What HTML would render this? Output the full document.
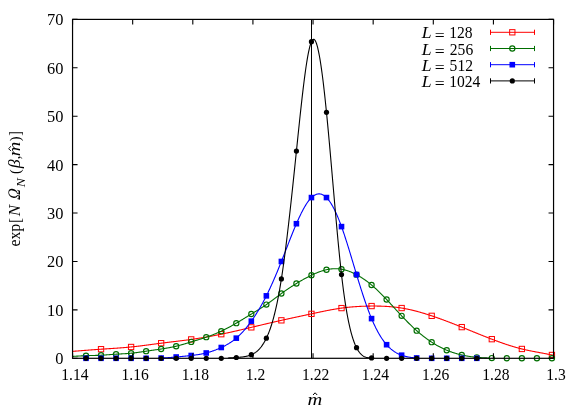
<!DOCTYPE html>
<html><head><meta charset="utf-8"><title>plot</title>
<style>html,body{margin:0;padding:0;background:#fff}svg{display:block;will-change:transform}</style></head>
<body>
<svg width="581" height="407" viewBox="0 0 581 407">
<rect x="0" y="0" width="581" height="407" fill="#fff"/>
<path d="M311.5,19.4 V358.3" stroke="#000" stroke-width="1.0" fill="none"/>
<path d="M72.55,351.38 L73.05,351.34 L73.55,351.30 L74.05,351.26 L74.55,351.21 L75.05,351.17 L75.55,351.13 L76.05,351.09 L76.55,351.05 L77.05,351.01 L77.55,350.97 L78.05,350.93 L78.55,350.89 L79.05,350.85 L79.55,350.81 L80.05,350.77 L80.55,350.73 L81.05,350.69 L81.55,350.65 L82.05,350.61 L82.55,350.57 L83.05,350.53 L83.55,350.49 L84.05,350.45 L84.55,350.42 L85.05,350.38 L85.55,350.34 L86.05,350.30 L86.55,350.26 L87.05,350.22 L87.55,350.18 L88.05,350.14 L88.55,350.10 L89.05,350.07 L89.55,350.03 L90.05,349.99 L90.55,349.95 L91.05,349.91 L91.55,349.88 L92.05,349.84 L92.55,349.80 L93.05,349.76 L93.55,349.73 L94.05,349.69 L94.55,349.65 L95.05,349.62 L95.55,349.58 L96.05,349.55 L96.55,349.51 L97.05,349.47 L97.55,349.44 L98.05,349.40 L98.55,349.37 L99.05,349.33 L99.55,349.30 L100.05,349.26 L100.55,349.23 L101.05,349.20 L101.55,349.16 L102.05,349.13 L102.55,349.10 L103.05,349.06 L103.55,349.03 L104.05,349.00 L104.55,348.96 L105.05,348.93 L105.55,348.90 L106.05,348.87 L106.55,348.83 L107.05,348.80 L107.55,348.77 L108.05,348.74 L108.55,348.71 L109.05,348.67 L109.55,348.64 L110.05,348.61 L110.55,348.58 L111.05,348.54 L111.55,348.51 L112.05,348.48 L112.55,348.45 L113.05,348.41 L113.55,348.38 L114.05,348.35 L114.55,348.31 L115.05,348.28 L115.55,348.24 L116.05,348.21 L116.55,348.18 L117.05,348.14 L117.55,348.11 L118.05,348.07 L118.55,348.03 L119.05,348.00 L119.55,347.96 L120.05,347.92 L120.55,347.89 L121.05,347.85 L121.55,347.81 L122.05,347.77 L122.55,347.73 L123.05,347.69 L123.55,347.65 L124.05,347.61 L124.55,347.57 L125.05,347.53 L125.55,347.49 L126.05,347.44 L126.55,347.40 L127.05,347.35 L127.55,347.31 L128.05,347.26 L128.55,347.22 L129.05,347.17 L129.55,347.12 L130.05,347.07 L130.55,347.03 L131.05,346.98 L131.55,346.92 L132.05,346.87 L132.55,346.82 L133.05,346.77 L133.55,346.71 L134.05,346.66 L134.55,346.60 L135.05,346.55 L135.55,346.49 L136.05,346.44 L136.55,346.38 L137.05,346.32 L137.55,346.26 L138.05,346.20 L138.55,346.14 L139.05,346.08 L139.55,346.02 L140.05,345.96 L140.55,345.90 L141.05,345.84 L141.55,345.77 L142.05,345.71 L142.55,345.65 L143.05,345.58 L143.55,345.52 L144.05,345.45 L144.55,345.39 L145.05,345.32 L145.55,345.26 L146.05,345.19 L146.55,345.13 L147.05,345.06 L147.55,345.00 L148.05,344.93 L148.55,344.86 L149.05,344.80 L149.55,344.73 L150.05,344.66 L150.55,344.60 L151.05,344.53 L151.55,344.46 L152.05,344.40 L152.55,344.33 L153.05,344.26 L153.55,344.19 L154.05,344.13 L154.55,344.06 L155.05,343.99 L155.55,343.93 L156.05,343.86 L156.55,343.79 L157.05,343.73 L157.55,343.66 L158.05,343.60 L158.55,343.53 L159.05,343.47 L159.55,343.40 L160.05,343.34 L160.55,343.27 L161.05,343.21 L161.55,343.14 L162.05,343.08 L162.55,343.02 L163.05,342.95 L163.55,342.89 L164.05,342.83 L164.55,342.77 L165.05,342.70 L165.55,342.64 L166.05,342.58 L166.55,342.52 L167.05,342.46 L167.55,342.40 L168.05,342.34 L168.55,342.28 L169.05,342.22 L169.55,342.16 L170.05,342.10 L170.55,342.04 L171.05,341.97 L171.55,341.91 L172.05,341.85 L172.55,341.79 L173.05,341.73 L173.55,341.67 L174.05,341.61 L174.55,341.55 L175.05,341.49 L175.55,341.43 L176.05,341.37 L176.55,341.31 L177.05,341.25 L177.55,341.19 L178.05,341.13 L178.55,341.07 L179.05,341.01 L179.55,340.94 L180.05,340.88 L180.55,340.82 L181.05,340.76 L181.55,340.70 L182.05,340.63 L182.55,340.57 L183.05,340.51 L183.55,340.44 L184.05,340.38 L184.55,340.32 L185.05,340.25 L185.55,340.19 L186.05,340.12 L186.55,340.05 L187.05,339.99 L187.55,339.92 L188.05,339.85 L188.55,339.79 L189.05,339.72 L189.55,339.65 L190.05,339.58 L190.55,339.51 L191.05,339.44 L191.55,339.37 L192.05,339.30 L192.55,339.23 L193.05,339.15 L193.55,339.08 L194.05,339.01 L194.55,338.93 L195.05,338.86 L195.55,338.78 L196.05,338.71 L196.55,338.63 L197.05,338.56 L197.55,338.48 L198.05,338.40 L198.55,338.32 L199.05,338.24 L199.55,338.16 L200.05,338.08 L200.55,338.00 L201.05,337.92 L201.55,337.84 L202.05,337.76 L202.55,337.68 L203.05,337.59 L203.55,337.51 L204.05,337.42 L204.55,337.34 L205.05,337.25 L205.55,337.17 L206.05,337.08 L206.55,336.99 L207.05,336.91 L207.55,336.82 L208.05,336.73 L208.55,336.64 L209.05,336.55 L209.55,336.46 L210.05,336.37 L210.55,336.28 L211.05,336.19 L211.55,336.09 L212.05,336.00 L212.55,335.91 L213.05,335.81 L213.55,335.72 L214.05,335.62 L214.55,335.53 L215.05,335.43 L215.55,335.33 L216.05,335.24 L216.55,335.14 L217.05,335.04 L217.55,334.94 L218.05,334.84 L218.55,334.74 L219.05,334.64 L219.55,334.54 L220.05,334.44 L220.55,334.34 L221.05,334.23 L221.55,334.13 L222.05,334.03 L222.55,333.92 L223.05,333.82 L223.55,333.71 L224.05,333.61 L224.55,333.50 L225.05,333.40 L225.55,333.29 L226.05,333.18 L226.55,333.07 L227.05,332.97 L227.55,332.86 L228.05,332.75 L228.55,332.64 L229.05,332.53 L229.55,332.42 L230.05,332.31 L230.55,332.20 L231.05,332.09 L231.55,331.97 L232.05,331.86 L232.55,331.75 L233.05,331.64 L233.55,331.52 L234.05,331.41 L234.55,331.30 L235.05,331.18 L235.55,331.07 L236.05,330.95 L236.55,330.84 L237.05,330.72 L237.55,330.61 L238.05,330.49 L238.55,330.38 L239.05,330.26 L239.55,330.15 L240.05,330.03 L240.55,329.91 L241.05,329.80 L241.55,329.68 L242.05,329.56 L242.55,329.44 L243.05,329.33 L243.55,329.21 L244.05,329.09 L244.55,328.97 L245.05,328.85 L245.55,328.74 L246.05,328.62 L246.55,328.50 L247.05,328.38 L247.55,328.26 L248.05,328.14 L248.55,328.02 L249.05,327.91 L249.55,327.79 L250.05,327.67 L250.55,327.55 L251.05,327.43 L251.55,327.31 L252.05,327.19 L252.55,327.07 L253.05,326.95 L253.55,326.83 L254.05,326.72 L254.55,326.60 L255.05,326.48 L255.55,326.36 L256.05,326.24 L256.55,326.12 L257.05,326.00 L257.55,325.88 L258.05,325.76 L258.55,325.65 L259.05,325.53 L259.55,325.41 L260.05,325.29 L260.55,325.17 L261.05,325.05 L261.55,324.93 L262.05,324.82 L262.55,324.70 L263.05,324.58 L263.55,324.46 L264.05,324.34 L264.55,324.23 L265.05,324.11 L265.55,323.99 L266.05,323.87 L266.55,323.76 L267.05,323.64 L267.55,323.52 L268.05,323.40 L268.55,323.29 L269.05,323.17 L269.55,323.05 L270.05,322.94 L270.55,322.82 L271.05,322.70 L271.55,322.59 L272.05,322.47 L272.55,322.36 L273.05,322.24 L273.55,322.13 L274.05,322.01 L274.55,321.90 L275.05,321.78 L275.55,321.67 L276.05,321.55 L276.55,321.44 L277.05,321.32 L277.55,321.21 L278.05,321.10 L278.55,320.98 L279.05,320.87 L279.55,320.76 L280.05,320.64 L280.55,320.53 L281.05,320.42 L281.55,320.31 L282.05,320.20 L282.55,320.08 L283.05,319.97 L283.55,319.86 L284.05,319.75 L284.55,319.64 L285.05,319.53 L285.55,319.42 L286.05,319.31 L286.55,319.20 L287.05,319.09 L287.55,318.98 L288.05,318.87 L288.55,318.76 L289.05,318.65 L289.55,318.55 L290.05,318.44 L290.55,318.33 L291.05,318.22 L291.55,318.11 L292.05,318.01 L292.55,317.90 L293.05,317.79 L293.55,317.68 L294.05,317.57 L294.55,317.47 L295.05,317.36 L295.55,317.25 L296.05,317.15 L296.55,317.04 L297.05,316.93 L297.55,316.82 L298.05,316.72 L298.55,316.61 L299.05,316.50 L299.55,316.40 L300.05,316.29 L300.55,316.18 L301.05,316.08 L301.55,315.97 L302.05,315.86 L302.55,315.76 L303.05,315.65 L303.55,315.54 L304.05,315.44 L304.55,315.33 L305.05,315.22 L305.55,315.12 L306.05,315.01 L306.55,314.90 L307.05,314.80 L307.55,314.69 L308.05,314.58 L308.55,314.48 L309.05,314.37 L309.55,314.26 L310.05,314.16 L310.55,314.05 L311.05,313.94 L311.55,313.83 L312.05,313.73 L312.55,313.62 L313.05,313.51 L313.55,313.40 L314.05,313.30 L314.55,313.19 L315.05,313.08 L315.55,312.97 L316.05,312.87 L316.55,312.76 L317.05,312.65 L317.55,312.54 L318.05,312.44 L318.55,312.33 L319.05,312.22 L319.55,312.12 L320.05,312.01 L320.55,311.91 L321.05,311.80 L321.55,311.70 L322.05,311.59 L322.55,311.49 L323.05,311.39 L323.55,311.28 L324.05,311.18 L324.55,311.08 L325.05,310.98 L325.55,310.88 L326.05,310.78 L326.55,310.68 L327.05,310.58 L327.55,310.48 L328.05,310.38 L328.55,310.28 L329.05,310.19 L329.55,310.09 L330.05,310.00 L330.55,309.90 L331.05,309.81 L331.55,309.72 L332.05,309.63 L332.55,309.54 L333.05,309.45 L333.55,309.36 L334.05,309.27 L334.55,309.18 L335.05,309.10 L335.55,309.01 L336.05,308.93 L336.55,308.85 L337.05,308.77 L337.55,308.69 L338.05,308.61 L338.55,308.53 L339.05,308.45 L339.55,308.38 L340.05,308.30 L340.55,308.23 L341.05,308.16 L341.55,308.09 L342.05,308.02 L342.55,307.95 L343.05,307.89 L343.55,307.82 L344.05,307.76 L344.55,307.70 L345.05,307.64 L345.55,307.58 L346.05,307.52 L346.55,307.46 L347.05,307.41 L347.55,307.35 L348.05,307.30 L348.55,307.25 L349.05,307.20 L349.55,307.15 L350.05,307.10 L350.55,307.05 L351.05,307.01 L351.55,306.96 L352.05,306.92 L352.55,306.88 L353.05,306.84 L353.55,306.80 L354.05,306.76 L354.55,306.72 L355.05,306.68 L355.55,306.65 L356.05,306.61 L356.55,306.58 L357.05,306.55 L357.55,306.52 L358.05,306.49 L358.55,306.46 L359.05,306.43 L359.55,306.41 L360.05,306.38 L360.55,306.36 L361.05,306.33 L361.55,306.31 L362.05,306.29 L362.55,306.27 L363.05,306.25 L363.55,306.23 L364.05,306.21 L364.55,306.20 L365.05,306.18 L365.55,306.17 L366.05,306.15 L366.55,306.14 L367.05,306.13 L367.55,306.12 L368.05,306.11 L368.55,306.10 L369.05,306.09 L369.55,306.08 L370.05,306.08 L370.55,306.07 L371.05,306.07 L371.55,306.06 L372.05,306.06 L372.55,306.06 L373.05,306.05 L373.55,306.05 L374.05,306.05 L374.55,306.06 L375.05,306.06 L375.55,306.06 L376.05,306.07 L376.55,306.07 L377.05,306.08 L377.55,306.08 L378.05,306.09 L378.55,306.10 L379.05,306.11 L379.55,306.12 L380.05,306.14 L380.55,306.15 L381.05,306.17 L381.55,306.18 L382.05,306.20 L382.55,306.22 L383.05,306.24 L383.55,306.26 L384.05,306.28 L384.55,306.31 L385.05,306.33 L385.55,306.36 L386.05,306.39 L386.55,306.42 L387.05,306.45 L387.55,306.48 L388.05,306.51 L388.55,306.55 L389.05,306.58 L389.55,306.62 L390.05,306.66 L390.55,306.70 L391.05,306.74 L391.55,306.79 L392.05,306.83 L392.55,306.88 L393.05,306.93 L393.55,306.98 L394.05,307.03 L394.55,307.09 L395.05,307.14 L395.55,307.20 L396.05,307.26 L396.55,307.32 L397.05,307.38 L397.55,307.45 L398.05,307.52 L398.55,307.58 L399.05,307.65 L399.55,307.73 L400.05,307.80 L400.55,307.88 L401.05,307.95 L401.55,308.03 L402.05,308.11 L402.55,308.20 L403.05,308.28 L403.55,308.37 L404.05,308.46 L404.55,308.55 L405.05,308.65 L405.55,308.74 L406.05,308.84 L406.55,308.94 L407.05,309.04 L407.55,309.14 L408.05,309.24 L408.55,309.35 L409.05,309.46 L409.55,309.57 L410.05,309.68 L410.55,309.79 L411.05,309.90 L411.55,310.02 L412.05,310.14 L412.55,310.26 L413.05,310.38 L413.55,310.50 L414.05,310.62 L414.55,310.75 L415.05,310.88 L415.55,311.00 L416.05,311.13 L416.55,311.27 L417.05,311.40 L417.55,311.53 L418.05,311.67 L418.55,311.81 L419.05,311.94 L419.55,312.08 L420.05,312.22 L420.55,312.37 L421.05,312.51 L421.55,312.66 L422.05,312.80 L422.55,312.95 L423.05,313.10 L423.55,313.25 L424.05,313.40 L424.55,313.55 L425.05,313.70 L425.55,313.86 L426.05,314.01 L426.55,314.17 L427.05,314.33 L427.55,314.49 L428.05,314.65 L428.55,314.81 L429.05,314.97 L429.55,315.13 L430.05,315.30 L430.55,315.46 L431.05,315.63 L431.55,315.79 L432.05,315.96 L432.55,316.13 L433.05,316.30 L433.55,316.47 L434.05,316.64 L434.55,316.81 L435.05,316.98 L435.55,317.16 L436.05,317.33 L436.55,317.51 L437.05,317.68 L437.55,317.86 L438.05,318.04 L438.55,318.22 L439.05,318.39 L439.55,318.57 L440.05,318.75 L440.55,318.94 L441.05,319.12 L441.55,319.30 L442.05,319.48 L442.55,319.67 L443.05,319.85 L443.55,320.04 L444.05,320.22 L444.55,320.41 L445.05,320.60 L445.55,320.78 L446.05,320.97 L446.55,321.16 L447.05,321.35 L447.55,321.54 L448.05,321.73 L448.55,321.92 L449.05,322.11 L449.55,322.30 L450.05,322.50 L450.55,322.69 L451.05,322.88 L451.55,323.08 L452.05,323.27 L452.55,323.47 L453.05,323.66 L453.55,323.86 L454.05,324.05 L454.55,324.25 L455.05,324.45 L455.55,324.65 L456.05,324.84 L456.55,325.04 L457.05,325.24 L457.55,325.44 L458.05,325.64 L458.55,325.84 L459.05,326.04 L459.55,326.24 L460.05,326.44 L460.55,326.64 L461.05,326.84 L461.55,327.04 L462.05,327.24 L462.55,327.44 L463.05,327.65 L463.55,327.85 L464.05,328.05 L464.55,328.25 L465.05,328.46 L465.55,328.66 L466.05,328.86 L466.55,329.06 L467.05,329.27 L467.55,329.47 L468.05,329.67 L468.55,329.88 L469.05,330.08 L469.55,330.29 L470.05,330.49 L470.55,330.69 L471.05,330.90 L471.55,331.10 L472.05,331.30 L472.55,331.51 L473.05,331.71 L473.55,331.91 L474.05,332.12 L474.55,332.32 L475.05,332.52 L475.55,332.73 L476.05,332.93 L476.55,333.13 L477.05,333.34 L477.55,333.54 L478.05,333.74 L478.55,333.94 L479.05,334.14 L479.55,334.35 L480.05,334.55 L480.55,334.75 L481.05,334.95 L481.55,335.15 L482.05,335.35 L482.55,335.55 L483.05,335.75 L483.55,335.95 L484.05,336.15 L484.55,336.35 L485.05,336.54 L485.55,336.74 L486.05,336.94 L486.55,337.13 L487.05,337.33 L487.55,337.53 L488.05,337.72 L488.55,337.92 L489.05,338.11 L489.55,338.31 L490.05,338.50 L490.55,338.69 L491.05,338.89 L491.55,339.08 L492.05,339.27 L492.55,339.46 L493.05,339.65 L493.55,339.84 L494.05,340.03 L494.55,340.21 L495.05,340.40 L495.55,340.59 L496.05,340.77 L496.55,340.96 L497.05,341.14 L497.55,341.33 L498.05,341.51 L498.55,341.69 L499.05,341.87 L499.55,342.05 L500.05,342.23 L500.55,342.41 L501.05,342.59 L501.55,342.77 L502.05,342.94 L502.55,343.12 L503.05,343.29 L503.55,343.47 L504.05,343.64 L504.55,343.81 L505.05,343.98 L505.55,344.15 L506.05,344.31 L506.55,344.48 L507.05,344.65 L507.55,344.81 L508.05,344.97 L508.55,345.14 L509.05,345.30 L509.55,345.46 L510.05,345.61 L510.55,345.77 L511.05,345.93 L511.55,346.08 L512.05,346.24 L512.55,346.39 L513.05,346.54 L513.55,346.69 L514.05,346.84 L514.55,346.98 L515.05,347.13 L515.55,347.27 L516.05,347.41 L516.55,347.55 L517.05,347.69 L517.55,347.83 L518.05,347.97 L518.55,348.10 L519.05,348.24 L519.55,348.37 L520.05,348.50 L520.55,348.62 L521.05,348.75 L521.55,348.88 L522.05,349.00 L522.55,349.12 L523.05,349.24 L523.55,349.36 L524.05,349.48 L524.55,349.59 L525.05,349.71 L525.55,349.82 L526.05,349.93 L526.55,350.04 L527.05,350.15 L527.55,350.26 L528.05,350.37 L528.55,350.47 L529.05,350.57 L529.55,350.68 L530.05,350.78 L530.55,350.88 L531.05,350.98 L531.55,351.08 L532.05,351.18 L532.55,351.28 L533.05,351.38 L533.55,351.47 L534.05,351.57 L534.55,351.66 L535.05,351.76 L535.55,351.85 L536.05,351.95 L536.55,352.04 L537.05,352.13 L537.55,352.23 L538.05,352.32 L538.55,352.41 L539.05,352.50 L539.55,352.60 L540.05,352.69 L540.55,352.78 L541.05,352.87 L541.55,352.96 L542.05,353.06 L542.55,353.15 L543.05,353.24 L543.55,353.33 L544.05,353.43 L544.55,353.52 L545.05,353.61 L545.55,353.71 L546.05,353.80 L546.55,353.90 L547.05,353.99 L547.55,354.09 L548.05,354.18 L548.55,354.28 L549.05,354.38 L549.55,354.48 L550.05,354.58 L550.55,354.68 L551.05,354.78 L551.55,354.88 L552.05,354.98 L552.55,355.09 L553.05,355.19 L553.55,355.30" stroke="#ff0000" stroke-width="1.1" fill="none" stroke-linejoin="round"/>
<rect x="98.38" y="346.55" width="5.3" height="5.3" fill="none" stroke="#ff0000" stroke-width="1"/>
<rect x="128.44" y="344.32" width="5.3" height="5.3" fill="none" stroke="#ff0000" stroke-width="1"/>
<rect x="158.50" y="340.54" width="5.3" height="5.3" fill="none" stroke="#ff0000" stroke-width="1"/>
<rect x="188.56" y="336.77" width="5.3" height="5.3" fill="none" stroke="#ff0000" stroke-width="1"/>
<rect x="218.62" y="331.54" width="5.3" height="5.3" fill="none" stroke="#ff0000" stroke-width="1"/>
<rect x="248.68" y="324.71" width="5.3" height="5.3" fill="none" stroke="#ff0000" stroke-width="1"/>
<rect x="278.74" y="317.69" width="5.3" height="5.3" fill="none" stroke="#ff0000" stroke-width="1"/>
<rect x="308.80" y="311.21" width="5.3" height="5.3" fill="none" stroke="#ff0000" stroke-width="1"/>
<rect x="338.86" y="305.44" width="5.3" height="5.3" fill="none" stroke="#ff0000" stroke-width="1"/>
<rect x="368.92" y="303.41" width="5.3" height="5.3" fill="none" stroke="#ff0000" stroke-width="1"/>
<rect x="398.98" y="305.40" width="5.3" height="5.3" fill="none" stroke="#ff0000" stroke-width="1"/>
<rect x="429.04" y="313.19" width="5.3" height="5.3" fill="none" stroke="#ff0000" stroke-width="1"/>
<rect x="459.10" y="324.47" width="5.3" height="5.3" fill="none" stroke="#ff0000" stroke-width="1"/>
<rect x="489.16" y="336.53" width="5.3" height="5.3" fill="none" stroke="#ff0000" stroke-width="1"/>
<rect x="519.22" y="346.31" width="5.3" height="5.3" fill="none" stroke="#ff0000" stroke-width="1"/>
<rect x="549.28" y="352.31" width="5.3" height="5.3" fill="none" stroke="#ff0000" stroke-width="1"/>
<path d="M72.55,356.41 L73.05,356.38 L73.55,356.35 L74.05,356.32 L74.55,356.29 L75.05,356.26 L75.55,356.23 L76.05,356.20 L76.55,356.17 L77.05,356.14 L77.55,356.11 L78.05,356.08 L78.55,356.05 L79.05,356.02 L79.55,355.99 L80.05,355.96 L80.55,355.94 L81.05,355.91 L81.55,355.88 L82.05,355.86 L82.55,355.83 L83.05,355.81 L83.55,355.79 L84.05,355.77 L84.55,355.74 L85.05,355.72 L85.55,355.70 L86.05,355.68 L86.55,355.67 L87.05,355.65 L87.55,355.63 L88.05,355.62 L88.55,355.60 L89.05,355.59 L89.55,355.57 L90.05,355.56 L90.55,355.54 L91.05,355.53 L91.55,355.52 L92.05,355.51 L92.55,355.49 L93.05,355.48 L93.55,355.47 L94.05,355.45 L94.55,355.44 L95.05,355.43 L95.55,355.41 L96.05,355.40 L96.55,355.38 L97.05,355.36 L97.55,355.35 L98.05,355.33 L98.55,355.31 L99.05,355.29 L99.55,355.27 L100.05,355.25 L100.55,355.22 L101.05,355.20 L101.55,355.17 L102.05,355.15 L102.55,355.12 L103.05,355.09 L103.55,355.06 L104.05,355.03 L104.55,355.00 L105.05,354.96 L105.55,354.93 L106.05,354.90 L106.55,354.86 L107.05,354.82 L107.55,354.79 L108.05,354.75 L108.55,354.72 L109.05,354.68 L109.55,354.64 L110.05,354.61 L110.55,354.57 L111.05,354.53 L111.55,354.49 L112.05,354.46 L112.55,354.42 L113.05,354.39 L113.55,354.35 L114.05,354.32 L114.55,354.28 L115.05,354.25 L115.55,354.22 L116.05,354.19 L116.55,354.15 L117.05,354.12 L117.55,354.10 L118.05,354.07 L118.55,354.04 L119.05,354.01 L119.55,353.98 L120.05,353.96 L120.55,353.93 L121.05,353.90 L121.55,353.88 L122.05,353.85 L122.55,353.82 L123.05,353.80 L123.55,353.77 L124.05,353.74 L124.55,353.71 L125.05,353.68 L125.55,353.65 L126.05,353.62 L126.55,353.58 L127.05,353.55 L127.55,353.51 L128.05,353.48 L128.55,353.44 L129.05,353.40 L129.55,353.36 L130.05,353.31 L130.55,353.27 L131.05,353.22 L131.55,353.17 L132.05,353.12 L132.55,353.07 L133.05,353.01 L133.55,352.95 L134.05,352.89 L134.55,352.83 L135.05,352.77 L135.55,352.71 L136.05,352.64 L136.55,352.58 L137.05,352.51 L137.55,352.44 L138.05,352.37 L138.55,352.30 L139.05,352.23 L139.55,352.16 L140.05,352.09 L140.55,352.01 L141.05,351.94 L141.55,351.87 L142.05,351.79 L142.55,351.72 L143.05,351.64 L143.55,351.57 L144.05,351.49 L144.55,351.42 L145.05,351.34 L145.55,351.27 L146.05,351.19 L146.55,351.12 L147.05,351.05 L147.55,350.97 L148.05,350.90 L148.55,350.83 L149.05,350.76 L149.55,350.68 L150.05,350.61 L150.55,350.54 L151.05,350.47 L151.55,350.40 L152.05,350.33 L152.55,350.25 L153.05,350.18 L153.55,350.11 L154.05,350.04 L154.55,349.97 L155.05,349.90 L155.55,349.83 L156.05,349.75 L156.55,349.68 L157.05,349.61 L157.55,349.54 L158.05,349.47 L158.55,349.39 L159.05,349.32 L159.55,349.24 L160.05,349.17 L160.55,349.09 L161.05,349.02 L161.55,348.94 L162.05,348.87 L162.55,348.79 L163.05,348.71 L163.55,348.63 L164.05,348.55 L164.55,348.47 L165.05,348.39 L165.55,348.31 L166.05,348.23 L166.55,348.14 L167.05,348.06 L167.55,347.97 L168.05,347.88 L168.55,347.79 L169.05,347.70 L169.55,347.61 L170.05,347.51 L170.55,347.41 L171.05,347.32 L171.55,347.22 L172.05,347.12 L172.55,347.01 L173.05,346.91 L173.55,346.80 L174.05,346.69 L174.55,346.58 L175.05,346.46 L175.55,346.35 L176.05,346.23 L176.55,346.11 L177.05,345.98 L177.55,345.86 L178.05,345.73 L178.55,345.60 L179.05,345.47 L179.55,345.33 L180.05,345.20 L180.55,345.06 L181.05,344.92 L181.55,344.78 L182.05,344.64 L182.55,344.49 L183.05,344.35 L183.55,344.20 L184.05,344.05 L184.55,343.91 L185.05,343.76 L185.55,343.61 L186.05,343.46 L186.55,343.31 L187.05,343.16 L187.55,343.00 L188.05,342.85 L188.55,342.70 L189.05,342.55 L189.55,342.39 L190.05,342.24 L190.55,342.09 L191.05,341.94 L191.55,341.78 L192.05,341.63 L192.55,341.48 L193.05,341.33 L193.55,341.18 L194.05,341.03 L194.55,340.88 L195.05,340.73 L195.55,340.58 L196.05,340.42 L196.55,340.27 L197.05,340.12 L197.55,339.97 L198.05,339.82 L198.55,339.66 L199.05,339.51 L199.55,339.35 L200.05,339.20 L200.55,339.04 L201.05,338.89 L201.55,338.73 L202.05,338.57 L202.55,338.41 L203.05,338.25 L203.55,338.09 L204.05,337.92 L204.55,337.76 L205.05,337.59 L205.55,337.42 L206.05,337.26 L206.55,337.09 L207.05,336.91 L207.55,336.74 L208.05,336.56 L208.55,336.39 L209.05,336.21 L209.55,336.03 L210.05,335.84 L210.55,335.66 L211.05,335.47 L211.55,335.29 L212.05,335.09 L212.55,334.90 L213.05,334.71 L213.55,334.51 L214.05,334.31 L214.55,334.11 L215.05,333.91 L215.55,333.70 L216.05,333.50 L216.55,333.29 L217.05,333.08 L217.55,332.86 L218.05,332.64 L218.55,332.42 L219.05,332.20 L219.55,331.98 L220.05,331.75 L220.55,331.52 L221.05,331.29 L221.55,331.06 L222.05,330.82 L222.55,330.58 L223.05,330.34 L223.55,330.09 L224.05,329.84 L224.55,329.59 L225.05,329.34 L225.55,329.09 L226.05,328.83 L226.55,328.57 L227.05,328.31 L227.55,328.05 L228.05,327.78 L228.55,327.52 L229.05,327.25 L229.55,326.98 L230.05,326.70 L230.55,326.43 L231.05,326.15 L231.55,325.87 L232.05,325.59 L232.55,325.31 L233.05,325.03 L233.55,324.74 L234.05,324.46 L234.55,324.17 L235.05,323.88 L235.55,323.59 L236.05,323.30 L236.55,323.00 L237.05,322.71 L237.55,322.42 L238.05,322.12 L238.55,321.82 L239.05,321.52 L239.55,321.22 L240.05,320.92 L240.55,320.62 L241.05,320.32 L241.55,320.02 L242.05,319.72 L242.55,319.41 L243.05,319.11 L243.55,318.80 L244.05,318.50 L244.55,318.19 L245.05,317.89 L245.55,317.58 L246.05,317.28 L246.55,316.97 L247.05,316.66 L247.55,316.36 L248.05,316.05 L248.55,315.75 L249.05,315.44 L249.55,315.13 L250.05,314.83 L250.55,314.52 L251.05,314.22 L251.55,313.92 L252.05,313.61 L252.55,313.31 L253.05,313.00 L253.55,312.70 L254.05,312.40 L254.55,312.09 L255.05,311.79 L255.55,311.49 L256.05,311.18 L256.55,310.87 L257.05,310.57 L257.55,310.26 L258.05,309.95 L258.55,309.64 L259.05,309.33 L259.55,309.02 L260.05,308.71 L260.55,308.39 L261.05,308.07 L261.55,307.75 L262.05,307.43 L262.55,307.11 L263.05,306.78 L263.55,306.45 L264.05,306.12 L264.55,305.79 L265.05,305.45 L265.55,305.12 L266.05,304.77 L266.55,304.43 L267.05,304.08 L267.55,303.73 L268.05,303.38 L268.55,303.02 L269.05,302.66 L269.55,302.30 L270.05,301.94 L270.55,301.57 L271.05,301.20 L271.55,300.83 L272.05,300.46 L272.55,300.09 L273.05,299.72 L273.55,299.35 L274.05,298.97 L274.55,298.60 L275.05,298.23 L275.55,297.85 L276.05,297.48 L276.55,297.10 L277.05,296.73 L277.55,296.35 L278.05,295.98 L278.55,295.61 L279.05,295.24 L279.55,294.87 L280.05,294.50 L280.55,294.13 L281.05,293.77 L281.55,293.41 L282.05,293.04 L282.55,292.69 L283.05,292.33 L283.55,291.97 L284.05,291.62 L284.55,291.27 L285.05,290.92 L285.55,290.58 L286.05,290.23 L286.55,289.89 L287.05,289.55 L287.55,289.21 L288.05,288.87 L288.55,288.53 L289.05,288.20 L289.55,287.87 L290.05,287.54 L290.55,287.21 L291.05,286.89 L291.55,286.56 L292.05,286.24 L292.55,285.92 L293.05,285.60 L293.55,285.28 L294.05,284.97 L294.55,284.66 L295.05,284.34 L295.55,284.03 L296.05,283.73 L296.55,283.42 L297.05,283.12 L297.55,282.81 L298.05,282.51 L298.55,282.21 L299.05,281.92 L299.55,281.62 L300.05,281.33 L300.55,281.03 L301.05,280.74 L301.55,280.46 L302.05,280.17 L302.55,279.89 L303.05,279.61 L303.55,279.33 L304.05,279.05 L304.55,278.77 L305.05,278.50 L305.55,278.23 L306.05,277.96 L306.55,277.70 L307.05,277.43 L307.55,277.17 L308.05,276.91 L308.55,276.66 L309.05,276.40 L309.55,276.15 L310.05,275.90 L310.55,275.66 L311.05,275.41 L311.55,275.17 L312.05,274.94 L312.55,274.70 L313.05,274.47 L313.55,274.24 L314.05,274.01 L314.55,273.79 L315.05,273.57 L315.55,273.35 L316.05,273.14 L316.55,272.93 L317.05,272.73 L317.55,272.52 L318.05,272.33 L318.55,272.13 L319.05,271.95 L319.55,271.76 L320.05,271.58 L320.55,271.40 L321.05,271.23 L321.55,271.07 L322.05,270.91 L322.55,270.75 L323.05,270.60 L323.55,270.45 L324.05,270.31 L324.55,270.17 L325.05,270.04 L325.55,269.92 L326.05,269.80 L326.55,269.69 L327.05,269.58 L327.55,269.48 L328.05,269.38 L328.55,269.29 L329.05,269.21 L329.55,269.13 L330.05,269.06 L330.55,269.00 L331.05,268.94 L331.55,268.89 L332.05,268.84 L332.55,268.80 L333.05,268.77 L333.55,268.74 L334.05,268.72 L334.55,268.71 L335.05,268.70 L335.55,268.70 L336.05,268.70 L336.55,268.72 L337.05,268.74 L337.55,268.76 L338.05,268.80 L338.55,268.84 L339.05,268.88 L339.55,268.94 L340.05,269.00 L340.55,269.07 L341.05,269.14 L341.55,269.22 L342.05,269.31 L342.55,269.41 L343.05,269.51 L343.55,269.62 L344.05,269.74 L344.55,269.87 L345.05,270.00 L345.55,270.13 L346.05,270.28 L346.55,270.43 L347.05,270.59 L347.55,270.75 L348.05,270.92 L348.55,271.10 L349.05,271.28 L349.55,271.47 L350.05,271.66 L350.55,271.86 L351.05,272.07 L351.55,272.28 L352.05,272.49 L352.55,272.72 L353.05,272.95 L353.55,273.18 L354.05,273.42 L354.55,273.66 L355.05,273.91 L355.55,274.17 L356.05,274.43 L356.55,274.69 L357.05,274.96 L357.55,275.24 L358.05,275.52 L358.55,275.80 L359.05,276.09 L359.55,276.39 L360.05,276.69 L360.55,276.99 L361.05,277.30 L361.55,277.62 L362.05,277.94 L362.55,278.26 L363.05,278.59 L363.55,278.93 L364.05,279.27 L364.55,279.61 L365.05,279.96 L365.55,280.32 L366.05,280.68 L366.55,281.04 L367.05,281.42 L367.55,281.79 L368.05,282.17 L368.55,282.56 L369.05,282.95 L369.55,283.35 L370.05,283.75 L370.55,284.15 L371.05,284.57 L371.55,284.98 L372.05,285.41 L372.55,285.83 L373.05,286.27 L373.55,286.70 L374.05,287.15 L374.55,287.59 L375.05,288.04 L375.55,288.50 L376.05,288.96 L376.55,289.43 L377.05,289.90 L377.55,290.37 L378.05,290.85 L378.55,291.33 L379.05,291.81 L379.55,292.30 L380.05,292.79 L380.55,293.29 L381.05,293.79 L381.55,294.29 L382.05,294.79 L382.55,295.30 L383.05,295.81 L383.55,296.33 L384.05,296.85 L384.55,297.37 L385.05,297.89 L385.55,298.41 L386.05,298.94 L386.55,299.47 L387.05,300.00 L387.55,300.54 L388.05,301.07 L388.55,301.61 L389.05,302.15 L389.55,302.69 L390.05,303.23 L390.55,303.78 L391.05,304.32 L391.55,304.87 L392.05,305.41 L392.55,305.96 L393.05,306.51 L393.55,307.06 L394.05,307.60 L394.55,308.15 L395.05,308.70 L395.55,309.25 L396.05,309.79 L396.55,310.34 L397.05,310.89 L397.55,311.43 L398.05,311.98 L398.55,312.52 L399.05,313.06 L399.55,313.61 L400.05,314.15 L400.55,314.68 L401.05,315.22 L401.55,315.76 L402.05,316.29 L402.55,316.82 L403.05,317.35 L403.55,317.87 L404.05,318.40 L404.55,318.92 L405.05,319.44 L405.55,319.95 L406.05,320.47 L406.55,320.98 L407.05,321.49 L407.55,321.99 L408.05,322.50 L408.55,323.00 L409.05,323.49 L409.55,323.99 L410.05,324.48 L410.55,324.97 L411.05,325.45 L411.55,325.94 L412.05,326.41 L412.55,326.89 L413.05,327.36 L413.55,327.83 L414.05,328.29 L414.55,328.75 L415.05,329.21 L415.55,329.66 L416.05,330.11 L416.55,330.56 L417.05,331.00 L417.55,331.44 L418.05,331.87 L418.55,332.30 L419.05,332.73 L419.55,333.15 L420.05,333.56 L420.55,333.98 L421.05,334.39 L421.55,334.79 L422.05,335.19 L422.55,335.59 L423.05,335.99 L423.55,336.38 L424.05,336.76 L424.55,337.14 L425.05,337.52 L425.55,337.90 L426.05,338.27 L426.55,338.63 L427.05,339.00 L427.55,339.36 L428.05,339.71 L428.55,340.06 L429.05,340.41 L429.55,340.75 L430.05,341.09 L430.55,341.43 L431.05,341.76 L431.55,342.09 L432.05,342.41 L432.55,342.73 L433.05,343.05 L433.55,343.36 L434.05,343.67 L434.55,343.98 L435.05,344.28 L435.55,344.57 L436.05,344.87 L436.55,345.16 L437.05,345.44 L437.55,345.73 L438.05,346.00 L438.55,346.28 L439.05,346.55 L439.55,346.82 L440.05,347.08 L440.55,347.34 L441.05,347.59 L441.55,347.84 L442.05,348.09 L442.55,348.33 L443.05,348.57 L443.55,348.81 L444.05,349.04 L444.55,349.27 L445.05,349.49 L445.55,349.71 L446.05,349.93 L446.55,350.14 L447.05,350.35 L447.55,350.56 L448.05,350.76 L448.55,350.95 L449.05,351.15 L449.55,351.34 L450.05,351.52 L450.55,351.71 L451.05,351.89 L451.55,352.06 L452.05,352.23 L452.55,352.40 L453.05,352.57 L453.55,352.73 L454.05,352.89 L454.55,353.04 L455.05,353.20 L455.55,353.34 L456.05,353.49 L456.55,353.63 L457.05,353.77 L457.55,353.91 L458.05,354.05 L458.55,354.18 L459.05,354.31 L459.55,354.43 L460.05,354.56 L460.55,354.68 L461.05,354.80 L461.55,354.91 L462.05,355.03 L462.55,355.14 L463.05,355.25 L463.55,355.35 L464.05,355.46 L464.55,355.56 L465.05,355.66 L465.55,355.75 L466.05,355.85 L466.55,355.94 L467.05,356.03 L467.55,356.12 L468.05,356.20 L468.55,356.29 L469.05,356.37 L469.55,356.45 L470.05,356.52 L470.55,356.59 L471.05,356.67 L471.55,356.74 L472.05,356.80 L472.55,356.87 L473.05,356.93 L473.55,356.99 L474.05,357.05 L474.55,357.11 L475.05,357.16 L475.55,357.21 L476.05,357.26 L476.55,357.31 L477.05,357.36 L477.55,357.40 L478.05,357.44 L478.55,357.48 L479.05,357.52 L479.55,357.56 L480.05,357.59 L480.55,357.62 L481.05,357.65 L481.55,357.68 L482.05,357.71 L482.55,357.74 L483.05,357.76 L483.55,357.79 L484.05,357.81 L484.55,357.83 L485.05,357.85 L485.55,357.87 L486.05,357.89 L486.55,357.91 L487.05,357.93 L487.55,357.94 L488.05,357.96 L488.55,357.97 L489.05,357.99 L489.55,358.30" stroke="#006e00" stroke-width="1.1" fill="none" stroke-linejoin="round"/>
<circle cx="86.00" cy="355.69" r="2.6" fill="none" stroke="#006e00" stroke-width="1.15"/>
<circle cx="101.03" cy="355.20" r="2.6" fill="none" stroke="#006e00" stroke-width="1.15"/>
<circle cx="116.06" cy="354.18" r="2.6" fill="none" stroke="#006e00" stroke-width="1.15"/>
<circle cx="131.09" cy="353.22" r="2.6" fill="none" stroke="#006e00" stroke-width="1.15"/>
<circle cx="146.12" cy="351.18" r="2.6" fill="none" stroke="#006e00" stroke-width="1.15"/>
<circle cx="161.15" cy="349.00" r="2.6" fill="none" stroke="#006e00" stroke-width="1.15"/>
<circle cx="176.18" cy="346.20" r="2.6" fill="none" stroke="#006e00" stroke-width="1.15"/>
<circle cx="191.21" cy="341.89" r="2.6" fill="none" stroke="#006e00" stroke-width="1.15"/>
<circle cx="206.24" cy="337.19" r="2.6" fill="none" stroke="#006e00" stroke-width="1.15"/>
<circle cx="221.27" cy="331.19" r="2.6" fill="none" stroke="#006e00" stroke-width="1.15"/>
<circle cx="236.30" cy="323.15" r="2.6" fill="none" stroke="#006e00" stroke-width="1.15"/>
<circle cx="251.33" cy="314.05" r="2.6" fill="none" stroke="#006e00" stroke-width="1.15"/>
<circle cx="266.36" cy="304.56" r="2.6" fill="none" stroke="#006e00" stroke-width="1.15"/>
<circle cx="281.39" cy="293.52" r="2.6" fill="none" stroke="#006e00" stroke-width="1.15"/>
<circle cx="296.42" cy="283.50" r="2.6" fill="none" stroke="#006e00" stroke-width="1.15"/>
<circle cx="311.45" cy="275.22" r="2.6" fill="none" stroke="#006e00" stroke-width="1.15"/>
<circle cx="326.48" cy="269.70" r="2.6" fill="none" stroke="#006e00" stroke-width="1.15"/>
<circle cx="341.51" cy="269.22" r="2.6" fill="none" stroke="#006e00" stroke-width="1.15"/>
<circle cx="356.54" cy="274.69" r="2.6" fill="none" stroke="#006e00" stroke-width="1.15"/>
<circle cx="371.57" cy="285.00" r="2.6" fill="none" stroke="#006e00" stroke-width="1.15"/>
<circle cx="386.60" cy="299.53" r="2.6" fill="none" stroke="#006e00" stroke-width="1.15"/>
<circle cx="401.63" cy="315.84" r="2.6" fill="none" stroke="#006e00" stroke-width="1.15"/>
<circle cx="416.66" cy="330.66" r="2.6" fill="none" stroke="#006e00" stroke-width="1.15"/>
<circle cx="431.69" cy="342.18" r="2.6" fill="none" stroke="#006e00" stroke-width="1.15"/>
<circle cx="446.72" cy="350.21" r="2.6" fill="none" stroke="#006e00" stroke-width="1.15"/>
<circle cx="461.75" cy="354.96" r="2.6" fill="none" stroke="#006e00" stroke-width="1.15"/>
<circle cx="476.78" cy="357.33" r="2.6" fill="none" stroke="#006e00" stroke-width="1.15"/>
<circle cx="491.81" cy="358.06" r="2.6" fill="none" stroke="#006e00" stroke-width="1.15"/>
<circle cx="506.84" cy="358.30" r="2.6" fill="none" stroke="#006e00" stroke-width="1.15"/>
<circle cx="521.87" cy="358.30" r="2.6" fill="none" stroke="#006e00" stroke-width="1.15"/>
<circle cx="536.90" cy="358.30" r="2.6" fill="none" stroke="#006e00" stroke-width="1.15"/>
<circle cx="551.93" cy="358.30" r="2.6" fill="none" stroke="#006e00" stroke-width="1.15"/>
<path d="M162.05,358.30 L162.55,357.99 L163.05,357.97 L163.55,357.94 L164.05,357.91 L164.55,357.88 L165.05,357.86 L165.55,357.82 L166.05,357.79 L166.55,357.76 L167.05,357.73 L167.55,357.69 L168.05,357.66 L168.55,357.62 L169.05,357.58 L169.55,357.55 L170.05,357.51 L170.55,357.47 L171.05,357.43 L171.55,357.39 L172.05,357.35 L172.55,357.31 L173.05,357.26 L173.55,357.22 L174.05,357.18 L174.55,357.14 L175.05,357.09 L175.55,357.05 L176.05,357.00 L176.55,356.96 L177.05,356.92 L177.55,356.87 L178.05,356.83 L178.55,356.78 L179.05,356.73 L179.55,356.69 L180.05,356.64 L180.55,356.59 L181.05,356.55 L181.55,356.50 L182.05,356.45 L182.55,356.40 L183.05,356.36 L183.55,356.31 L184.05,356.26 L184.55,356.21 L185.05,356.16 L185.55,356.11 L186.05,356.05 L186.55,356.00 L187.05,355.95 L187.55,355.90 L188.05,355.84 L188.55,355.79 L189.05,355.73 L189.55,355.68 L190.05,355.62 L190.55,355.57 L191.05,355.51 L191.55,355.45 L192.05,355.39 L192.55,355.34 L193.05,355.28 L193.55,355.21 L194.05,355.15 L194.55,355.09 L195.05,355.02 L195.55,354.96 L196.05,354.89 L196.55,354.82 L197.05,354.75 L197.55,354.68 L198.05,354.60 L198.55,354.52 L199.05,354.44 L199.55,354.36 L200.05,354.28 L200.55,354.19 L201.05,354.10 L201.55,354.00 L202.05,353.91 L202.55,353.81 L203.05,353.71 L203.55,353.60 L204.05,353.49 L204.55,353.38 L205.05,353.27 L205.55,353.15 L206.05,353.02 L206.55,352.89 L207.05,352.76 L207.55,352.63 L208.05,352.49 L208.55,352.35 L209.05,352.20 L209.55,352.05 L210.05,351.89 L210.55,351.73 L211.05,351.57 L211.55,351.41 L212.05,351.24 L212.55,351.06 L213.05,350.89 L213.55,350.71 L214.05,350.52 L214.55,350.34 L215.05,350.15 L215.55,349.95 L216.05,349.76 L216.55,349.55 L217.05,349.35 L217.55,349.14 L218.05,348.93 L218.55,348.72 L219.05,348.50 L219.55,348.28 L220.05,348.06 L220.55,347.83 L221.05,347.61 L221.55,347.37 L222.05,347.14 L222.55,346.90 L223.05,346.66 L223.55,346.41 L224.05,346.16 L224.55,345.91 L225.05,345.65 L225.55,345.39 L226.05,345.12 L226.55,344.84 L227.05,344.57 L227.55,344.28 L228.05,343.99 L228.55,343.70 L229.05,343.39 L229.55,343.08 L230.05,342.77 L230.55,342.45 L231.05,342.12 L231.55,341.78 L232.05,341.43 L232.55,341.08 L233.05,340.72 L233.55,340.35 L234.05,339.97 L234.55,339.59 L235.05,339.19 L235.55,338.79 L236.05,338.37 L236.55,337.95 L237.05,337.51 L237.55,337.07 L238.05,336.62 L238.55,336.15 L239.05,335.68 L239.55,335.20 L240.05,334.70 L240.55,334.20 L241.05,333.69 L241.55,333.17 L242.05,332.64 L242.55,332.10 L243.05,331.56 L243.55,331.00 L244.05,330.43 L244.55,329.86 L245.05,329.27 L245.55,328.68 L246.05,328.07 L246.55,327.46 L247.05,326.84 L247.55,326.21 L248.05,325.57 L248.55,324.92 L249.05,324.27 L249.55,323.60 L250.05,322.93 L250.55,322.25 L251.05,321.56 L251.55,320.86 L252.05,320.15 L252.55,319.43 L253.05,318.71 L253.55,317.97 L254.05,317.23 L254.55,316.48 L255.05,315.72 L255.55,314.95 L256.05,314.17 L256.55,313.38 L257.05,312.58 L257.55,311.77 L258.05,310.95 L258.55,310.12 L259.05,309.29 L259.55,308.44 L260.05,307.58 L260.55,306.71 L261.05,305.83 L261.55,304.95 L262.05,304.05 L262.55,303.14 L263.05,302.22 L263.55,301.28 L264.05,300.34 L264.55,299.39 L265.05,298.42 L265.55,297.45 L266.05,296.46 L266.55,295.47 L267.05,294.46 L267.55,293.44 L268.05,292.40 L268.55,291.36 L269.05,290.31 L269.55,289.25 L270.05,288.17 L270.55,287.09 L271.05,286.00 L271.55,284.89 L272.05,283.78 L272.55,282.66 L273.05,281.53 L273.55,280.39 L274.05,279.24 L274.55,278.08 L275.05,276.91 L275.55,275.74 L276.05,274.56 L276.55,273.37 L277.05,272.17 L277.55,270.96 L278.05,269.75 L278.55,268.53 L279.05,267.30 L279.55,266.07 L280.05,264.83 L280.55,263.58 L281.05,262.33 L281.55,261.07 L282.05,259.80 L282.55,258.53 L283.05,257.26 L283.55,255.98 L284.05,254.70 L284.55,253.41 L285.05,252.12 L285.55,250.84 L286.05,249.55 L286.55,248.26 L287.05,246.97 L287.55,245.68 L288.05,244.40 L288.55,243.11 L289.05,241.83 L289.55,240.56 L290.05,239.28 L290.55,238.02 L291.05,236.75 L291.55,235.50 L292.05,234.25 L292.55,233.01 L293.05,231.77 L293.55,230.55 L294.05,229.33 L294.55,228.12 L295.05,226.93 L295.55,225.74 L296.05,224.57 L296.55,223.41 L297.05,222.26 L297.55,221.13 L298.05,220.01 L298.55,218.90 L299.05,217.81 L299.55,216.74 L300.05,215.68 L300.55,214.64 L301.05,213.62 L301.55,212.62 L302.05,211.63 L302.55,210.67 L303.05,209.73 L303.55,208.81 L304.05,207.91 L304.55,207.03 L305.05,206.18 L305.55,205.35 L306.05,204.54 L306.55,203.76 L307.05,203.01 L307.55,202.28 L308.05,201.57 L308.55,200.90 L309.05,200.25 L309.55,199.64 L310.05,199.05 L310.55,198.49 L311.05,197.96 L311.55,197.47 L312.05,197.00 L312.55,196.57 L313.05,196.17 L313.55,195.80 L314.05,195.47 L314.55,195.16 L315.05,194.89 L315.55,194.65 L316.05,194.44 L316.55,194.27 L317.05,194.13 L317.55,194.02 L318.05,193.94 L318.55,193.89 L319.05,193.88 L319.55,193.90 L320.05,193.95 L320.55,194.03 L321.05,194.15 L321.55,194.30 L322.05,194.48 L322.55,194.70 L323.05,194.95 L323.55,195.23 L324.05,195.54 L324.55,195.89 L325.05,196.28 L325.55,196.70 L326.05,197.15 L326.55,197.63 L327.05,198.16 L327.55,198.71 L328.05,199.30 L328.55,199.92 L329.05,200.58 L329.55,201.26 L330.05,201.98 L330.55,202.74 L331.05,203.52 L331.55,204.34 L332.05,205.18 L332.55,206.06 L333.05,206.97 L333.55,207.91 L334.05,208.87 L334.55,209.87 L335.05,210.90 L335.55,211.95 L336.05,213.03 L336.55,214.14 L337.05,215.28 L337.55,216.45 L338.05,217.64 L338.55,218.86 L339.05,220.11 L339.55,221.38 L340.05,222.68 L340.55,224.00 L341.05,225.35 L341.55,226.72 L342.05,228.12 L342.55,229.54 L343.05,230.98 L343.55,232.45 L344.05,233.93 L344.55,235.44 L345.05,236.96 L345.55,238.50 L346.05,240.05 L346.55,241.62 L347.05,243.20 L347.55,244.80 L348.05,246.41 L348.55,248.03 L349.05,249.66 L349.55,251.29 L350.05,252.94 L350.55,254.59 L351.05,256.25 L351.55,257.91 L352.05,259.58 L352.55,261.25 L353.05,262.92 L353.55,264.59 L354.05,266.26 L354.55,267.93 L355.05,269.60 L355.55,271.26 L356.05,272.92 L356.55,274.58 L357.05,276.22 L357.55,277.86 L358.05,279.49 L358.55,281.12 L359.05,282.73 L359.55,284.34 L360.05,285.93 L360.55,287.52 L361.05,289.09 L361.55,290.65 L362.05,292.20 L362.55,293.74 L363.05,295.26 L363.55,296.77 L364.05,298.27 L364.55,299.75 L365.05,301.21 L365.55,302.66 L366.05,304.09 L366.55,305.50 L367.05,306.90 L367.55,308.27 L368.05,309.63 L368.55,310.97 L369.05,312.29 L369.55,313.58 L370.05,314.86 L370.55,316.11 L371.05,317.34 L371.55,318.55 L372.05,319.74 L372.55,320.90 L373.05,322.04 L373.55,323.15 L374.05,324.24 L374.55,325.31 L375.05,326.36 L375.55,327.38 L376.05,328.38 L376.55,329.36 L377.05,330.32 L377.55,331.26 L378.05,332.17 L378.55,333.07 L379.05,333.94 L379.55,334.79 L380.05,335.62 L380.55,336.44 L381.05,337.23 L381.55,338.00 L382.05,338.75 L382.55,339.48 L383.05,340.19 L383.55,340.88 L384.05,341.55 L384.55,342.21 L385.05,342.84 L385.55,343.46 L386.05,344.06 L386.55,344.64 L387.05,345.20 L387.55,345.74 L388.05,346.27 L388.55,346.78 L389.05,347.28 L389.55,347.75 L390.05,348.21 L390.55,348.66 L391.05,349.09 L391.55,349.50 L392.05,349.90 L392.55,350.29 L393.05,350.66 L393.55,351.02 L394.05,351.36 L394.55,351.70 L395.05,352.02 L395.55,352.32 L396.05,352.62 L396.55,352.90 L397.05,353.17 L397.55,353.44 L398.05,353.69 L398.55,353.93 L399.05,354.16 L399.55,354.38 L400.05,354.59 L400.55,354.79 L401.05,354.99 L401.55,355.17 L402.05,355.35 L402.55,355.52 L403.05,355.68 L403.55,355.84 L404.05,355.99 L404.55,356.13 L405.05,356.26 L405.55,356.39 L406.05,356.51 L406.55,356.63 L407.05,356.74 L407.55,356.84 L408.05,356.94 L408.55,357.04 L409.05,357.12 L409.55,357.21 L410.05,357.28 L410.55,357.36 L411.05,357.43 L411.55,357.49 L412.05,357.55 L412.55,357.61 L413.05,357.66 L413.55,357.71 L414.05,357.76 L414.55,357.81 L415.05,357.85 L415.55,357.88 L416.05,357.92 L416.55,357.95 L417.05,357.99 L417.55,358.30" stroke="#0000ff" stroke-width="1.1" fill="none" stroke-linejoin="round"/>
<rect x="83.20" y="355.50" width="5.6" height="5.6" fill="#0000ff"/>
<rect x="98.23" y="355.50" width="5.6" height="5.6" fill="#0000ff"/>
<rect x="113.26" y="355.50" width="5.6" height="5.6" fill="#0000ff"/>
<rect x="128.29" y="355.50" width="5.6" height="5.6" fill="#0000ff"/>
<rect x="143.32" y="355.50" width="5.6" height="5.6" fill="#0000ff"/>
<rect x="158.35" y="355.26" width="5.6" height="5.6" fill="#0000ff"/>
<rect x="173.38" y="354.19" width="5.6" height="5.6" fill="#0000ff"/>
<rect x="188.41" y="352.69" width="5.6" height="5.6" fill="#0000ff"/>
<rect x="203.44" y="350.17" width="5.6" height="5.6" fill="#0000ff"/>
<rect x="218.47" y="344.70" width="5.6" height="5.6" fill="#0000ff"/>
<rect x="233.50" y="335.36" width="5.6" height="5.6" fill="#0000ff"/>
<rect x="248.53" y="318.37" width="5.6" height="5.6" fill="#0000ff"/>
<rect x="263.56" y="293.05" width="5.6" height="5.6" fill="#0000ff"/>
<rect x="278.59" y="258.67" width="5.6" height="5.6" fill="#0000ff"/>
<rect x="293.62" y="220.91" width="5.6" height="5.6" fill="#0000ff"/>
<rect x="308.65" y="194.76" width="5.6" height="5.6" fill="#0000ff"/>
<rect x="323.68" y="194.76" width="5.6" height="5.6" fill="#0000ff"/>
<rect x="338.71" y="223.81" width="5.6" height="5.6" fill="#0000ff"/>
<rect x="353.74" y="271.74" width="5.6" height="5.6" fill="#0000ff"/>
<rect x="368.77" y="315.80" width="5.6" height="5.6" fill="#0000ff"/>
<rect x="383.80" y="341.90" width="5.6" height="5.6" fill="#0000ff"/>
<rect x="398.83" y="352.40" width="5.6" height="5.6" fill="#0000ff"/>
<rect x="413.86" y="355.16" width="5.6" height="5.6" fill="#0000ff"/>
<rect x="428.89" y="355.50" width="5.6" height="5.6" fill="#0000ff"/>
<rect x="443.92" y="355.50" width="5.6" height="5.6" fill="#0000ff"/>
<rect x="458.95" y="355.50" width="5.6" height="5.6" fill="#0000ff"/>
<rect x="473.98" y="355.50" width="5.6" height="5.6" fill="#0000ff"/>
<path d="M228.05,358.30 L228.55,357.97 L229.05,357.94 L229.55,357.91 L230.05,357.88 L230.55,357.85 L231.05,357.82 L231.55,357.79 L232.05,357.76 L232.55,357.72 L233.05,357.69 L233.55,357.66 L234.05,357.62 L234.55,357.59 L235.05,357.56 L235.55,357.53 L236.05,357.49 L236.55,357.46 L237.05,357.43 L237.55,357.40 L238.05,357.36 L238.55,357.33 L239.05,357.29 L239.55,357.25 L240.05,357.21 L240.55,357.17 L241.05,357.12 L241.55,357.07 L242.05,357.01 L242.55,356.95 L243.05,356.89 L243.55,356.82 L244.05,356.74 L244.55,356.66 L245.05,356.57 L245.55,356.48 L246.05,356.37 L246.55,356.26 L247.05,356.14 L247.55,356.01 L248.05,355.88 L248.55,355.73 L249.05,355.57 L249.55,355.40 L250.05,355.23 L250.55,355.04 L251.05,354.84 L251.55,354.62 L252.05,354.40 L252.55,354.16 L253.05,353.90 L253.55,353.63 L254.05,353.34 L254.55,353.04 L255.05,352.71 L255.55,352.37 L256.05,352.01 L256.55,351.62 L257.05,351.21 L257.55,350.78 L258.05,350.32 L258.55,349.83 L259.05,349.32 L259.55,348.79 L260.05,348.22 L260.55,347.62 L261.05,346.99 L261.55,346.33 L262.05,345.64 L262.55,344.91 L263.05,344.15 L263.55,343.36 L264.05,342.52 L264.55,341.65 L265.05,340.74 L265.55,339.79 L266.05,338.80 L266.55,337.76 L267.05,336.68 L267.55,335.56 L268.05,334.39 L268.55,333.17 L269.05,331.91 L269.55,330.58 L270.05,329.21 L270.55,327.77 L271.05,326.28 L271.55,324.72 L272.05,323.11 L272.55,321.43 L273.05,319.68 L273.55,317.86 L274.05,315.97 L274.55,314.01 L275.05,311.98 L275.55,309.87 L276.05,307.68 L276.55,305.41 L277.05,303.06 L277.55,300.62 L278.05,298.10 L278.55,295.49 L279.05,292.79 L279.55,290.00 L280.05,287.11 L280.55,284.13 L281.05,281.05 L281.55,277.87 L282.05,274.59 L282.55,271.22 L283.05,267.75 L283.55,264.19 L284.05,260.54 L284.55,256.80 L285.05,252.99 L285.55,249.09 L286.05,245.13 L286.55,241.08 L287.05,236.97 L287.55,232.80 L288.05,228.56 L288.55,224.26 L289.05,219.90 L289.55,215.49 L290.05,211.03 L290.55,206.52 L291.05,201.97 L291.55,197.37 L292.05,192.74 L292.55,188.07 L293.05,183.37 L293.55,178.64 L294.05,173.89 L294.55,169.11 L295.05,164.31 L295.55,159.50 L296.05,154.67 L296.55,149.83 L297.05,144.98 L297.55,140.14 L298.05,135.31 L298.55,130.50 L299.05,125.72 L299.55,120.98 L300.05,116.28 L300.55,111.64 L301.05,107.07 L301.55,102.57 L302.05,98.15 L302.55,93.82 L303.05,89.59 L303.55,85.47 L304.05,81.46 L304.55,77.58 L305.05,73.84 L305.55,70.24 L306.05,66.79 L306.55,63.51 L307.05,60.39 L307.55,57.46 L308.05,54.71 L308.55,52.15 L309.05,49.81 L309.55,47.67 L310.05,45.76 L310.55,44.08 L311.05,42.64 L311.55,41.45 L312.05,40.52 L312.55,39.84 L313.05,39.43 L313.55,39.27 L314.05,39.37 L314.55,39.74 L315.05,40.36 L315.55,41.25 L316.05,42.38 L316.55,43.75 L317.05,45.36 L317.55,47.20 L318.05,49.27 L318.55,51.56 L319.05,54.06 L319.55,56.77 L320.05,59.67 L320.55,62.78 L321.05,66.07 L321.55,69.55 L322.05,73.20 L322.55,77.02 L323.05,81.01 L323.55,85.16 L324.05,89.46 L324.55,93.91 L325.05,98.50 L325.55,103.23 L326.05,108.08 L326.55,113.06 L327.05,118.15 L327.55,123.36 L328.05,128.66 L328.55,134.04 L329.05,139.51 L329.55,145.05 L330.05,150.65 L330.55,156.30 L331.05,161.99 L331.55,167.72 L332.05,173.47 L332.55,179.24 L333.05,185.01 L333.55,190.77 L334.05,196.53 L334.55,202.26 L335.05,207.95 L335.55,213.61 L336.05,219.22 L336.55,224.76 L337.05,230.24 L337.55,235.64 L338.05,240.95 L338.55,246.16 L339.05,251.27 L339.55,256.26 L340.05,261.13 L340.55,265.87 L341.05,270.46 L341.55,274.89 L342.05,279.17 L342.55,283.29 L343.05,287.26 L343.55,291.07 L344.05,294.73 L344.55,298.26 L345.05,301.63 L345.55,304.88 L346.05,307.98 L346.55,310.96 L347.05,313.80 L347.55,316.52 L348.05,319.12 L348.55,321.60 L349.05,323.96 L349.55,326.21 L350.05,328.35 L350.55,330.39 L351.05,332.32 L351.55,334.15 L352.05,335.89 L352.55,337.53 L353.05,339.08 L353.55,340.55 L354.05,341.94 L354.55,343.24 L355.05,344.47 L355.55,345.62 L356.05,346.70 L356.55,347.72 L357.05,348.67 L357.55,349.56 L358.05,350.39 L358.55,351.16 L359.05,351.88 L359.55,352.54 L360.05,353.15 L360.55,353.72 L361.05,354.23 L361.55,354.70 L362.05,355.13 L362.55,355.52 L363.05,355.87 L363.55,356.18 L364.05,356.46 L364.55,356.71 L365.05,356.92 L365.55,357.11 L366.05,357.27 L366.55,357.41 L367.05,357.53 L367.55,357.63 L368.05,357.71 L368.55,357.77 L369.05,357.82 L369.55,357.86 L370.05,357.90 L370.55,357.92 L371.05,357.94 L371.55,357.96 L372.05,357.98 L372.55,357.99 L373.05,358.30" stroke="#000000" stroke-width="1.1" fill="none" stroke-linejoin="round"/>
<circle cx="86.00" cy="358.30" r="2.6" fill="#000000"/>
<circle cx="101.03" cy="358.30" r="2.6" fill="#000000"/>
<circle cx="116.06" cy="358.30" r="2.6" fill="#000000"/>
<circle cx="131.09" cy="358.30" r="2.6" fill="#000000"/>
<circle cx="146.12" cy="358.30" r="2.6" fill="#000000"/>
<circle cx="161.15" cy="358.30" r="2.6" fill="#000000"/>
<circle cx="176.18" cy="358.30" r="2.6" fill="#000000"/>
<circle cx="191.21" cy="358.30" r="2.6" fill="#000000"/>
<circle cx="206.24" cy="358.30" r="2.6" fill="#000000"/>
<circle cx="221.27" cy="358.30" r="2.6" fill="#000000"/>
<circle cx="236.30" cy="357.48" r="2.6" fill="#000000"/>
<circle cx="251.33" cy="354.72" r="2.6" fill="#000000"/>
<circle cx="266.36" cy="338.16" r="2.6" fill="#000000"/>
<circle cx="281.39" cy="278.90" r="2.6" fill="#000000"/>
<circle cx="296.42" cy="151.09" r="2.6" fill="#000000"/>
<circle cx="311.45" cy="41.67" r="2.6" fill="#000000"/>
<circle cx="326.48" cy="112.36" r="2.6" fill="#000000"/>
<circle cx="341.51" cy="274.54" r="2.6" fill="#000000"/>
<circle cx="356.54" cy="347.70" r="2.6" fill="#000000"/>
<circle cx="371.57" cy="357.96" r="2.6" fill="#000000"/>
<circle cx="386.60" cy="358.30" r="2.6" fill="#000000"/>
<circle cx="401.63" cy="358.30" r="2.6" fill="#000000"/>
<circle cx="416.66" cy="358.30" r="2.6" fill="#000000"/>
<circle cx="431.69" cy="358.30" r="2.6" fill="#000000"/>
<circle cx="446.72" cy="358.30" r="2.6" fill="#000000"/>
<circle cx="461.75" cy="358.30" r="2.6" fill="#000000"/>
<circle cx="476.78" cy="358.30" r="2.6" fill="#000000"/>
<rect x="72.55" y="19.4" width="480.99999999999994" height="338.90000000000003" fill="none" stroke="#000" stroke-width="1.2"/>
<path d="M72.55,358.3 v-5.0 M72.55,19.4 v5.0 M132.67,358.3 v-5.0 M132.67,19.4 v5.0 M192.80,358.3 v-5.0 M192.80,19.4 v5.0 M252.92,358.3 v-5.0 M252.92,19.4 v5.0 M313.05,358.3 v-5.0 M313.05,19.4 v5.0 M373.17,358.3 v-5.0 M373.17,19.4 v5.0 M433.30,358.3 v-5.0 M433.30,19.4 v5.0 M493.42,358.3 v-5.0 M493.42,19.4 v5.0 M553.55,358.3 v-5.0 M553.55,19.4 v5.0 M72.55,358.30 h5.0 M553.55,358.30 h-5.0 M72.55,309.89 h5.0 M553.55,309.89 h-5.0 M72.55,261.47 h5.0 M553.55,261.47 h-5.0 M72.55,213.06 h5.0 M553.55,213.06 h-5.0 M72.55,164.64 h5.0 M553.55,164.64 h-5.0 M72.55,116.23 h5.0 M553.55,116.23 h-5.0 M72.55,67.81 h5.0 M553.55,67.81 h-5.0 M72.55,19.40 h5.0 M553.55,19.40 h-5.0" stroke="#000" stroke-width="1.1" fill="none"/>
<g font-family="Liberation Serif, serif" font-size="15.5" fill="#000">
<g transform="translate(0,380.3)"><text transform="translate(61.24,0) scale(1.000,1.07)" font-size="15.6">1.14</text></g>
<g transform="translate(0,380.3)"><text transform="translate(121.47,0) scale(1.000,1.07)" font-size="15.6">1.16</text></g>
<g transform="translate(0,380.3)"><text transform="translate(181.66,0) scale(1.000,1.07)" font-size="15.6">1.18</text></g>
<g transform="translate(0,380.3)"><text transform="translate(245.82,0) scale(1.000,1.07)" font-size="15.6">1.2</text></g>
<g transform="translate(0,380.3)"><text transform="translate(302.04,0) scale(1.000,1.07)" font-size="15.6">1.22</text></g>
<g transform="translate(0,380.3)"><text transform="translate(361.86,0) scale(1.000,1.07)" font-size="15.6">1.24</text></g>
<g transform="translate(0,380.3)"><text transform="translate(422.10,0) scale(1.000,1.07)" font-size="15.6">1.26</text></g>
<g transform="translate(0,380.3)"><text transform="translate(482.29,0) scale(1.000,1.07)" font-size="15.6">1.28</text></g>
<g transform="translate(0,380.3)"><text transform="translate(546.32,0) scale(1.000,1.07)" font-size="15.6">1.3</text></g>
<g transform="translate(0,364.20)"><text transform="translate(55.22,0) scale(1.000,1.05)" font-size="16.4">0</text></g>
<g transform="translate(0,315.79)"><text transform="translate(47.02,0) scale(1.000,1.05)" font-size="16.4">10</text></g>
<g transform="translate(0,267.37)"><text transform="translate(47.02,0) scale(1.000,1.05)" font-size="16.4">20</text></g>
<g transform="translate(0,218.96)"><text transform="translate(47.02,0) scale(1.000,1.05)" font-size="16.4">30</text></g>
<g transform="translate(0,170.54)"><text transform="translate(47.02,0) scale(1.000,1.05)" font-size="16.4">40</text></g>
<g transform="translate(0,122.13)"><text transform="translate(47.02,0) scale(1.000,1.05)" font-size="16.4">50</text></g>
<g transform="translate(0,73.71)"><text transform="translate(47.02,0) scale(1.000,1.05)" font-size="16.4">60</text></g>
<g transform="translate(0,25.30)"><text transform="translate(47.02,0) scale(1.000,1.05)" font-size="16.4">70</text></g>
<g transform="translate(0,38.30)"><text transform="translate(421.71,0) scale(1.119,1)" font-size="15.8" font-style="italic">L</text><text transform="translate(434.82,2.3) scale(1.115,1)" font-size="15.8">=</text><text transform="translate(449.13,0) scale(1.000,1.07)" font-size="15.6">128</text></g>
<g transform="translate(0,54.50)"><text transform="translate(421.71,0) scale(1.119,1)" font-size="15.8" font-style="italic">L</text><text transform="translate(434.82,2.3) scale(1.115,1)" font-size="15.8">=</text><text transform="translate(449.81,0) scale(1.000,1.07)" font-size="15.6">256</text></g>
<g transform="translate(0,70.70)"><text transform="translate(421.71,0) scale(1.119,1)" font-size="15.8" font-style="italic">L</text><text transform="translate(434.82,2.3) scale(1.115,1)" font-size="15.8">=</text><text transform="translate(449.59,0) scale(1.000,1.07)" font-size="15.6">512</text></g>
<g transform="translate(0,86.90)"><text transform="translate(421.71,0) scale(1.119,1)" font-size="15.8" font-style="italic">L</text><text transform="translate(434.82,2.3) scale(1.115,1)" font-size="15.8">=</text><text transform="translate(449.13,0) scale(1.000,1.07)" font-size="15.6">1024</text></g>
<g transform="translate(19.75,246.6) rotate(-90)">
<text transform="translate(-0.02,0) scale(1.000,1)" font-size="15.8">exp</text>
<text transform="translate(23.67,0.8) scale(0.966,1)" font-size="15.8">[</text>
<text transform="translate(30.23,0) scale(1.080,1)" font-size="15.8" font-style="italic">N</text>
<text transform="translate(46.68,0) scale(0.844,1) skewX(-8)" font-size="17.6" font-style="italic">Ω</text>
<text transform="translate(59.30,4.75) scale(1.108,1)" font-size="12.4" font-style="italic">N</text>
<text transform="translate(72.63,0) scale(0.935,1)" font-size="15.2">(</text>
<text transform="translate(78.39,0) scale(1.130,1)" font-size="15.8" font-style="italic">β</text>
<text transform="translate(87.36,0) scale(0.892,1)" font-size="15.8">,</text>
<text transform="translate(90.42,0) scale(1.273,1)" font-size="15.8" font-style="italic">m</text>
<path d="M95.55,-8.75 L97.95,-11.15 L100.35,-8.75" stroke="#000" stroke-width="0.9" fill="none"/>
<text transform="translate(105.44,0) scale(0.948,1)" font-size="15.2">)</text>
<text transform="translate(110.91,0.8) scale(0.853,1)" font-size="15.8">]</text>
</g>
<g transform="translate(0,404.7)"><text transform="translate(307.56,0) scale(1.297,1)" font-size="15.8" font-style="italic">m</text></g>
<path d="M313.0,395.0 L315.1,392.8 L317.2,395.0" stroke="#000" stroke-width="1.0" fill="none"/>
</g>
<path d="M490.5,32.3 H534.5 M490.5,29.699999999999996 v5.2 M534.5,29.699999999999996 v5.2" stroke="#ff0000" stroke-width="1.0" fill="none"/>
<rect x="509.65" y="29.65" width="5.3" height="5.3" fill="none" stroke="#ff0000" stroke-width="1"/>
<path d="M490.5,48.5 H534.5 M490.5,45.9 v5.2 M534.5,45.9 v5.2" stroke="#006e00" stroke-width="1.0" fill="none"/>
<circle cx="512.30" cy="48.50" r="2.6" fill="none" stroke="#006e00" stroke-width="1.15"/>
<path d="M490.5,64.7 H534.5 M490.5,62.1 v5.2 M534.5,62.1 v5.2" stroke="#0000ff" stroke-width="1.0" fill="none"/>
<rect x="509.50" y="61.90" width="5.6" height="5.6" fill="#0000ff"/>
<path d="M490.5,80.9 H534.5 M490.5,78.30000000000001 v5.2 M534.5,78.30000000000001 v5.2" stroke="#000000" stroke-width="1.0" fill="none"/>
<circle cx="512.30" cy="80.90" r="2.6" fill="#000000"/>
</svg>
</body></html>
